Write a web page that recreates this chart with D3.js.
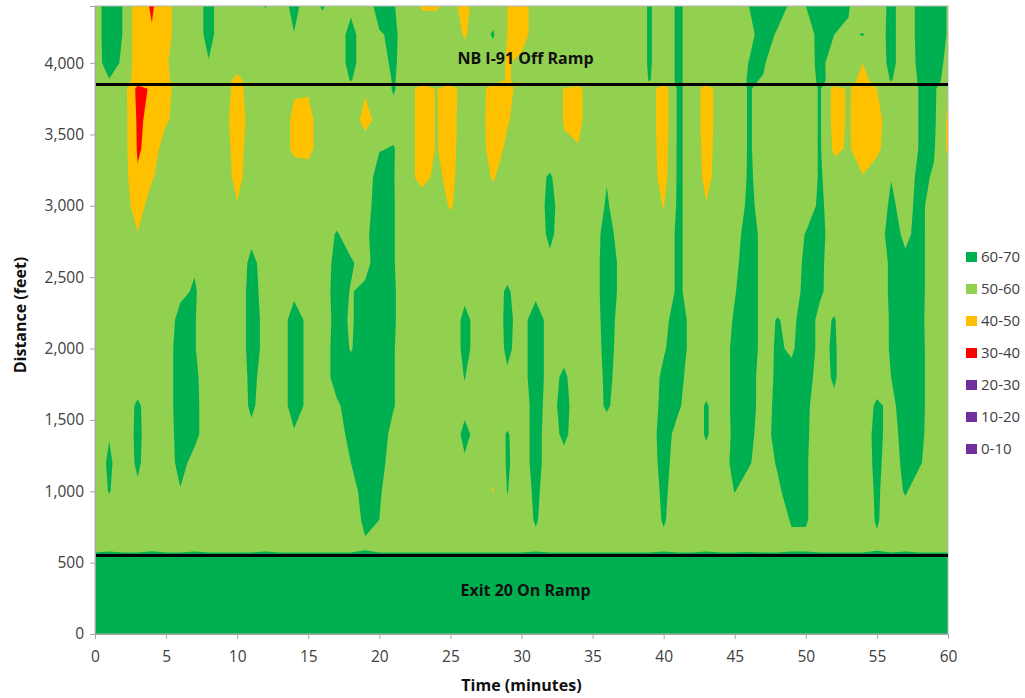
<!DOCTYPE html>
<html>
<head>
<meta charset="utf-8">
<script src="https://cdn.jsdelivr.net/npm/d3@7"></script>
<style>
body { margin: 0; background: #fff; }
text { font-family: "Open Sans", sans-serif; }
</style>
</head>
<body>
<div id="chart"></div>
<script>
// grid columns (minutes) and grid rows (distance, feet)
var minutes = [0,1,2,3,4,5,6,7,8,9,10,11,12,13,14,15,16,17,18,19,20,21,22,23,24,25,26,27,28,29,30,
  31,32,33,34,35,36,37,38,39,40,41,42,43,44,45,46,47,48,49,50,51,52,53,54,55,56,57,58,59,60];
var distances = [0,540,600,800,1000,1200,1400,1600,1800,2000,2200,2400,2600,2800,3000,3200,3400,3600,3820,3880,4000,4200,4400];

// speed (mph), one row per distance
var speed0 = [65,65,65,65,65,65,65,65,65,65, 65,65,65,65,65,65,65,65,65,65, 65,65,65,65,65,65,65,65,65,65,
  65,65,65,65,65,65,65,65,65,65, 65,65,65,65,65,65,65,65,65,65, 65,65,65,65,65,65,65,65,65,65, 65];
var speed540 = [65,65,65,65,65,65,65,65,65,65, 65,65,65,65,65,65,65,65,65,65, 65,65,65,65,65,65,65,65,65,65,
  65,65,65,65,65,65,65,65,65,65, 65,65,65,65,65,65,65,65,65,65, 65,65,65,65,65,65,65,65,65,65, 65];
var speed600 = [55.5,57,55.5,55.5,57.5,55.5,55.5,57,55.5,55.5, 55.5,55.5,57,55.5,55.5,55.5,55.5,55.5,55.5,58.5,
  55.5,55.5,55.5,55.5,55.5,55.5,55.5,55.5,55.5,55.5, 55.5,57,55.5,55.5,55.5,55.5,55.5,55.5,55.5,55.5,
  57,55.5,55.5,57,55.5,55.5,56.5,55.5,55.5,57, 57,55.5,55.5,55.5,55.5,58,55.5,57,55.5,55.5, 55.5];
var speed800 = [55,55,55,55,55,55,55,55,55,55, 55,55,55,55,55,55,55,55,55,62, 60,55,55,55,55,55,55,55,55,58,
  55,61,55,55,55,55,55,55,55,55, 61,55,55,55,55,55,55,55,55,61, 61,55,55,55,55,61,55,55,55,55, 55];
var speed1000 = [55,60.5,55,58.5,55,55,59.5,55,55,55, 55,55,55,55,55,55,55,55,56,64, 61,55,55,55,55,55,55,55,49.5,60.3,
  55,62,55,55,55,55,55,55,55,55, 62,55,55,55,55,60.3,55,55,58,65, 61,55,55,55,55,61.5,55,61,55,55, 55];
var speed1200 = [55,61.5,55,61.5,55,55,63,57,55,55, 55,55,55,55,55,55,55,55,60,65, 63,56,55,55,55,55,59,55,52,61,
  56,63,56,57,55,55,55,55,55,56, 63,56,55,57,55,63,61,55,61,65, 61,55,55,55,55,62.5,55,63,61,55, 55];
var speed1400 = [55,59.5,55,62,55,55,64,62.5,55,55, 55,58,55,55,59,58,55,57,62,65, 64,57.5,55,55,55,55,62,57,55,60.7,
  56,63,56,62,55,55,55,55,55,56, 64,57,55,61,55,62,63,55,64,65, 61.5,55,55,55,55,63,56,64,62.5,55, 55];
var speed1600 = [55,55,55,61.5,55,55,65,62.5,55,55, 55,61.5,56,55,64,58,55,58.5,64,65, 65,60.5,55,55,55,55,58,55,55,55,
  56,63,57,63,55,55,61.5,55,55,55, 63,61.5,55,61,55,62.5,65,55,63,64, 62,55,58.5,55,55,61.5,58,64,63,55, 55];
var speed1800 = [55,55,55,55,55,55,65,62,55,55, 55,62,57,55,64,58,55,64,63,64, 65,60.5,55,55,55,55,60.3,55,55,59,
  57,64,57,61.5,55,55,62,57,55,55, 62,63,56,55,55,62.5,65,55,62,62, 63,57,61,55,55,55,60,64,63,55, 55];
var speed2000 = [55,55,55,55,55,55,65,60.5,55,55, 55,63,58,55,64,58,55,64,59.5,64, 65,60.5,55,55,55,55,62,57,55,61.5,
  57,64,57,57,55,55,63,57,55,55, 59,65,57,55,55,62.5,65,57,61,59, 64,58,61,55,55,55,61,64,63,55, 55];
var speed2200 = [55,55,55,55,55,55,63,60.5,55,55, 55,63,58,55,64,58,55,63,59,64, 65,61,55,55,55,55,62,57,55,62,
  57,64,57,55,55,55,64,57,55,55, 57,65,57,55,55,61,65,57,60.5,58, 64,58,60.5,55,55,55,61,63,62.5,55, 55];
var speed2400 = [55,55,55,55,55,55,58,61,55,55, 55,63,57,55,58,55,55,64,59.5,62, 65,61,55,55,55,55,58,55,55,61.5,
  55,58,55,55,55,55,65,58,55,55, 55,61.5,57,55,55,59.5,65,57,55,55, 63,61,57,55,55,55,61.5,62,63,55, 55];
var speed2600 = [55,55,55,55,55,55,55,59,55,55, 55,62,57,55,55,55,55,63,61,57, 65,60.5,55,55,55,55,55,55,55,55,
  55,55,58,55,55,55,65,58,55,55, 55,61.5,57,55,55,58,65,57,55,55, 62,62,55,55,55,55,61.5,62,63,55, 55];
var speed2800 = [55,55,55,50.5,55,55,55,55,55,55, 55,58,55,55,55,55,55,60.8,56,58, 65,60.5,55,55,55,55,55,55,55,55,
  55,55,62,55,55,55,64,56,55,55, 55,61.5,57,55,55,56,65,57,55,55, 60.5,63,55,55,55,55,64,58,63,55, 55];
var speed3000 = [55,55,55,45,55,55,55,55,55,55, 50.5,55,55,55,55,55,55,55,55,56, 65,60.5,55,55,55,49,55,55,55,55,
  55,55,63,55,55,55,61,55,55,55, 49.5,61.5,57,50.5,55,55,62,57,55,55, 55,62,55,55,55,55,61.5,57,62.5,56, 55];
var speed3200 = [55,55,54.5,41,49,55,55,55,55,55, 47,55,55,55,55,55,55,55,55,55, 64,60.5,53,47,52,47.5,55,55,49,55,
  55,57,61,55,55,55,59.5,55,55,55, 46,61.5,57,47,55,55,61,57.5,55,55, 55,61,55,55,50.5,55,59.8,55,62.5,59, 55];
var speed3400 = [55,55,54.3,39,43,57,55,55,55,55, 45.5,55,55,55,48,47,55,55,55,55, 59.5,60.5,55,45,50.5,46.5,55,55,45,52,
  55,55,55,51,50.5,55,55,55,55,55, 45,61.5,57,46,55,55,60.8,57,55,55, 55,61,48,51,45,48,55,55,60.5,61, 48];
var speed3600 = [55,55,54.3,38.5,42.3,48.5,55,55,55,55, 43,55,55,55,48,47,55,55,55,47, 53,57,55,45,50.5,46,55,55,44,49,
  55,55,55,49.5,47.9,55,55,55,55,55, 44,61.5,57,45,55,55,60.8,57,55,55, 55,61,46.5,51,44,47,55,55,60.5,62, 48];
var speed3820 = [55,55,54.3,37,41.3,46,56,55,55,55, 46,55,55,55,51,51,55,55,55,51, 55,60.8,55,45,50.5,45,55,55,45,46,
  55,55,55,49.5,47.9,55,55,55,55,55, 44,61.5,57,45,55,55,60.8,57,55,55, 55,61,46.5,51,45,50,55,55,60.5,62, 51];
var speed3880 = [55,59.5,56,45,44,48,55,55,55,55, 47,55,55,55,55,55,55,55,60.5,55, 55,60.8,55,55,55,55,55,55,55,49,
  53,55,55,55,55,55,55,55,55,60.5, 55,61.5,57,55,55,55,61,59.5,55,55, 55,62,57,55,46,55,60.5,55,61,63, 57];
var speed4000 = [55,65,58,44.7,44,49,55,55,59.5,55, 55,55,55,55,55,55,55,55,63,55, 57,61.5,55,55,55,55,55,55,55,49,
  53,55,55,55,55,55,55,55,55,61, 55,61.5,57,55,55,55,60.3,61,55,55, 55,63,55,55,50,55,62.5,55,62,64, 58];
var speed4200 = [55,66,59.5,44,40.7,46,56,55,63,55, 55,55,55,55,59.7,55,55,55,63,55, 59,62,55,55,55,55,49,55,61,50,
  45,55,55,55,55,55,55,55,55,61, 55,61.5,57,55,55,55,57.3,64,59,55, 54,64,60,58.5,60.5,56,62.5,55,62.5,65, 59.4];
var speed4400 = [55,66,59.5,44,39,46,56,55,63,55, 55,55,60.5,55,63,55,61,55,58,53, 65,60.6,55,49,49,53,47,55,55,50,
  45,55,55,55,55,55,55,55,55,61, 55,61.5,57,55,55,55,60,66,64,58.3, 60,65,64,61,51,55,62.5,55,62.5,65, 59.4];

var speedRows = [speed0, speed540, speed600, speed800, speed1000, speed1200, speed1400, speed1600, speed1800,
  speed2000, speed2200, speed2400, speed2600, speed2800, speed3000, speed3200, speed3400, speed3600,
  speed3820, speed3880, speed4000, speed4200, speed4400];

// speed bands (mph)
var thresholds = [0, 10, 20, 30, 40, 50, 60];
var bandLabels = ["0-10", "10-20", "20-30", "30-40", "40-50", "50-60", "60-70"];
var bandColors = ["#7030A0", "#7030A0", "#7030A0", "#FF0000", "#FFC000", "#92D050", "#00B050"];

var xTicks = [0, 5, 10, 15, 20, 25, 30, 35, 40, 45, 50, 55, 60];
var yTicks = [0, 500, 1000, 1500, 2000, 2500, 3000, 3500, 4000];

var ramps = [
  {name: "NB I-91 Off Ramp", dist: 3850, labelDist: 4030},
  {name: "Exit 20 On Ramp", dist: 550, labelDist: 305}
];

var margin = {top: 6, right: 77, bottom: 64, left: 95},
    width = 1025 - margin.left - margin.right,
    height = 698 - margin.top - margin.bottom;

var svg = d3.select("#chart")
  .append("svg")
  .attr("width", 1025)
  .attr("height", 698)
  .style("background", "#fff");

var g = svg.append("g")
  .attr("transform", "translate(" + margin.left + "," + margin.top + ")");

var xScale = d3.scaleLinear().domain([0, 60]).range([0, width]);
var yScale = d3.scaleLinear().domain([0, 4400]).range([height, 0]);

// grid index -> data units (d3.contours puts sample i at i + 0.5)
var colToMin = d3.scaleLinear().domain(d3.range(minutes.length)).range(minutes);
var rowToDist = d3.scaleLinear().domain(d3.range(distances.length)).range(distances);

var values = [];
speedRows.forEach(function(row) {
  row.forEach(function(v) { values.push(v); });
});

var contours = d3.contours()
  .size([minutes.length, distances.length])
  .thresholds(thresholds)(values);

var proj = d3.geoTransform({
  point: function(px, py) {
    this.stream.point(xScale(colToMin(px - 0.5)), yScale(rowToDist(py - 0.5)));
  }
});
var path = d3.geoPath(proj);

svg.append("defs").append("clipPath").attr("id", "plot-clip")
  .append("rect").attr("width", width).attr("height", height);

g.append("g")
  .attr("clip-path", "url(#plot-clip)")
  .selectAll("path")
  .data(contours)
  .enter()
  .append("path")
  .attr("d", path)
  .attr("fill", function(d, i) { return bandColors[i]; })
  .attr("fill-rule", "evenodd");

// plot border
g.append("rect")
  .attr("width", width)
  .attr("height", height)
  .attr("fill", "none")
  .attr("stroke", "#b3b3b3")
  .attr("stroke-width", 1);

// ramp lines + labels
g.selectAll(".ramp")
  .data(ramps)
  .enter()
  .append("line")
  .attr("x1", 0)
  .attr("x2", width)
  .attr("y1", function(d) { return yScale(d.dist); })
  .attr("y2", function(d) { return yScale(d.dist); })
  .attr("stroke", "#000")
  .attr("stroke-width", 3);

g.selectAll(".ramp-label")
  .data(ramps)
  .enter()
  .append("text")
  .attr("x", xScale(30) + 4)
  .attr("y", function(d) { return yScale(d.labelDist); })
  .attr("dy", "0.35em")
  .attr("text-anchor", "middle")
  .style("font-size", "16px")
  .style("font-weight", "bold")
  .attr("fill", "#111")
  .text(function(d) { return d.name; });

// axes
var yAxis = g.append("g")
  .call(d3.axisLeft(yScale).tickValues(yTicks).tickFormat(d3.format(",")).tickSize(5).tickPadding(6));
var xAxis = g.append("g")
  .attr("transform", "translate(0," + height + ")")
  .call(d3.axisBottom(xScale).tickValues(xTicks).tickSize(5).tickPadding(12));

[xAxis, yAxis].forEach(function(a) {
  a.select(".domain").attr("stroke", "#a6a6a6");
  a.selectAll(".tick line").attr("stroke", "#a6a6a6");
  a.selectAll(".tick text")
    .attr("fill", "#404040")
    .style("font-size", "15.5px")
    .style("font-family", "'Open Sans', sans-serif");
});

svg.append("text")
  .attr("x", margin.left + width / 2)
  .attr("y", 691)
  .attr("text-anchor", "middle")
  .style("font-size", "16px")
  .style("font-weight", "bold")
  .attr("fill", "#111")
  .text("Time (minutes)");

svg.append("text")
  .attr("transform", "translate(26,315) rotate(-90)")
  .attr("text-anchor", "middle")
  .style("font-size", "16px")
  .style("font-weight", "bold")
  .attr("fill", "#111")
  .text("Distance (feet)");

// legend, highest band on top
var legend = svg.append("g").attr("transform", "translate(966,257)");
var legendRows = bandLabels.slice().reverse();
var legendCols = bandColors.slice().reverse();

legend.selectAll("rect")
  .data(legendRows)
  .enter()
  .append("rect")
  .attr("x", 0)
  .attr("y", function(d, i) { return i * 32 - 5; })
  .attr("width", 11)
  .attr("height", 10)
  .attr("fill", function(d, i) { return legendCols[i]; });

legend.selectAll("text")
  .data(legendRows)
  .enter()
  .append("text")
  .attr("x", 15)
  .attr("y", function(d, i) { return i * 32; })
  .attr("dy", "0.35em")
  .style("font-size", "15px")
  .attr("fill", "#404040")
  .text(function(d) { return d; });
</script>
</body>
</html>
